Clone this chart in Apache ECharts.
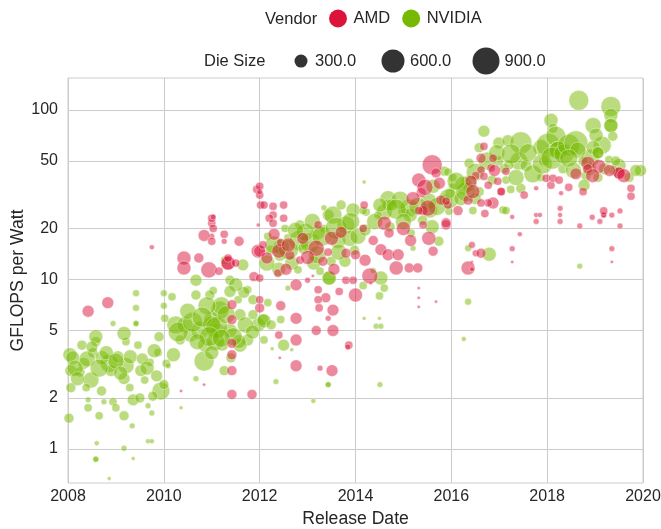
<!DOCTYPE html>
<html>
<head>
<meta charset="utf-8">
<script src="https://cdn.jsdelivr.net/npm/echarts@6/dist/echarts.min.js"></script>
<style>
  html, body { margin: 0; padding: 0; background: #fff; }
  #container { width: 661px; height: 529px; }
</style>
</head>
<body>
<div id="container"></div>
<script>
// [release year, GFLOPS per Watt, die size mm2]
const nvidiaPoints = [
  [2008.04, 3.6, 330], [2008.10, 3.45, 330], [2008.06, 2.9, 270], [2008.06, 2.3, 225],
  [2008.02, 1.52, 225], [2008.33, 3.2, 270], [2008.52, 3.7, 225], [2008.48, 2.55, 395],
  [2008.58, 4.3, 225], [2008.86, 3.2, 465], [2008.90, 2.9, 270], [2009.21, 3.1, 395],
  [2009.17, 2.6, 270], [2009.52, 2.9, 270], [2009.46, 4.1, 190], [2009.21, 4.3, 190],
  [2008.94, 1.9, 190], [2008.65, 1.57, 190], [2009.17, 1.57, 225], [2009.36, 1.95, 270],
  [2009.94, 2.2, 465], [2009.77, 2.05, 225], [2010.00, 2.4, 225], [2009.88, 3.7, 190],
  [2010.05, 3.2, 190], [2010.09, 3.1, 155], [2008.60, 1.08, 145], [2008.58, 0.87, 155],
  [2008.58, 0.87, 155], [2009.17, 1.01, 155], [2009.36, 0.88, 135], [2008.86, 0.67, 135],
  [2009.67, 1.11, 145], [2009.75, 1.11, 145], [2009.75, 1.63, 155], [2009.67, 1.8, 155],
  [2009.34, 1.37, 155], [2009.00, 1.75, 190], [2008.42, 1.75, 190], [2008.75, 1.9, 155],
  [2008.42, 1.95, 155], [2010.36, 1.75, 135], [2010.67, 2.6, 155], [2010.84, 3.3, 550],
  [2011.26, 2.9, 225], [2011.40, 3.45, 225], [2009.42, 8.3, 170], [2010.00, 8.3, 170],
  [2010.00, 7.0, 170], [2009.42, 6.8, 170], [2008.94, 5.5, 155], [2009.42, 5.5, 155],
  [2009.42, 5.5, 155], [2008.58, 4.6, 330], [2009.17, 4.8, 330], [2008.71, 3.45, 330],
  [2009.04, 3.5, 270], [2008.25, 2.85, 225], [2008.38, 2.3, 190], [2009.29, 2.3, 190],
  [2009.60, 2.55, 190], [2009.71, 3.25, 190], [2009.80, 3.8, 330], [2008.29, 4.1, 225],
  [2008.15, 3.0, 395], [2008.20, 2.6, 330], [2008.40, 3.4, 395], [2008.65, 3.0, 465],
  [2008.80, 3.7, 330], [2009.00, 3.3, 395], [2009.10, 2.8, 330], [2009.30, 3.5, 330],
  [2009.55, 3.4, 270], [2009.65, 3.0, 330], [2009.85, 2.7, 270], [2008.50, 4.0, 270],
  [2009.90, 4.6, 225], [2008.70, 2.2, 225], [2009.50, 2.0, 225],
  [2010.67, 9.9, 270], [2010.67, 8.1, 225], [2011.03, 8.6, 190], [2010.25, 5.4, 465],
  [2010.44, 5.4, 395], [2010.55, 4.7, 330], [2010.75, 5.0, 465], [2011.00, 5.8, 395],
  [2011.17, 6.6, 465], [2011.13, 5.0, 330], [2011.38, 5.0, 330], [2011.59, 6.2, 270],
  [2011.75, 4.4, 270], [2011.59, 4.1, 330], [2010.86, 4.1, 330], [2011.22, 4.1, 270],
  [2010.34, 4.4, 225], [2010.02, 5.9, 190], [2010.17, 7.9, 190], [2010.96, 8.1, 225],
  [2011.38, 9.9, 225], [2011.27, 13, 190], [2011.65, 12.2, 270], [2011.75, 8.7, 190],
  [2011.55, 7.6, 190], [2011.86, 7.6, 225], [2011.97, 5.4, 330], [2011.67, 8.4, 270],
  [2012.07, 5.8, 270], [2011.86, 6.2, 225], [2011.08, 4.3, 465], [2011.57, 4.3, 330],
  [2011.50, 9.3, 330], [2011.38, 8.5, 270], [2011.20, 7.0, 465], [2010.90, 7.0, 465],
  [2011.00, 5.4, 465], [2010.30, 4.9, 550], [2010.60, 5.6, 550], [2010.50, 6.5, 395],
  [2010.80, 6.0, 550], [2011.10, 5.2, 640], [2011.30, 6.2, 465], [2011.45, 4.6, 465],
  [2011.70, 5.4, 395], [2011.85, 4.9, 330], [2010.95, 4.6, 550], [2011.20, 4.5, 465],
  [2010.70, 4.3, 395], [2011.00, 3.7, 330], [2010.20, 3.6, 330],
  [2012.17, 18, 190], [2012.59, 17.6, 190], [2012.82, 17, 550], [2012.92, 15.3, 270],
  [2013.34, 20, 190], [2013.43, 24, 270], [2013.53, 24, 465], [2013.80, 21, 465],
  [2013.63, 17, 395], [2013.49, 12.8, 225], [2013.13, 12.5, 330], [2013.45, 10.2, 330],
  [2013.45, 10.2, 330], [2012.59, 8.9, 155], [2012.17, 7.3, 190], [2012.09, 5.7, 330],
  [2012.24, 5.4, 225], [2012.44, 5.8, 190], [2012.50, 4.1, 270], [2012.09, 4.4, 190],
  [2012.26, 3.9, 135], [2012.67, 3.85, 135], [2012.34, 2.5, 155], [2013.43, 2.4, 155],
  [2013.43, 2.4, 155], [2013.12, 1.92, 145], [2013.34, 26.5, 155], [2012.22, 14.9, 225],
  [2012.42, 13.9, 270], [2012.67, 12.5, 330], [2013.05, 16.5, 550], [2013.22, 19, 330],
  [2013.88, 17.5, 395], [2013.78, 12.8, 270], [2013.98, 14.9, 225], [2012.84, 21, 225],
  [2012.53, 20, 190], [2013.70, 27.5, 225], [2013.95, 25.7, 330], [2012.80, 11.4, 190],
  [2013.26, 11.2, 190], [2012.45, 15.5, 395], [2012.30, 16, 465], [2012.60, 15, 550],
  [2012.95, 19, 465], [2013.10, 22, 395], [2013.30, 18, 550], [2013.60, 20, 640],
  [2013.90, 22, 465], [2013.65, 14.5, 395], [2013.20, 14.0, 465], [2012.75, 19.5, 395],
  [2014.05, 18, 395], [2012.40, 11.5, 330], [2012.15, 12.5, 395],
  [2014.22, 25, 190], [2014.60, 25, 395], [2015.16, 18.8, 190], [2015.20, 15.3, 155],
  [2014.99, 25, 225], [2015.74, 16.8, 225], [2015.95, 25.3, 190], [2014.16, 9.2, 190],
  [2014.37, 11.3, 155], [2014.53, 10.2, 330], [2014.60, 8.9, 190], [2014.50, 8.0, 190],
  [2014.18, 5.9, 135], [2014.50, 5.9, 135], [2014.43, 5.3, 155], [2014.53, 5.3, 155],
  [2014.51, 2.4, 155], [2014.18, 37.6, 135], [2014.16, 25.5, 190], [2014.47, 24, 190],
  [2014.68, 30, 395], [2014.68, 27.5, 270], [2015.12, 26.4, 465], [2015.85, 43.6, 225],
  [2015.62, 35.5, 330], [2015.53, 29, 395], [2016.03, 35, 190], [2014.93, 29.4, 465],
  [2014.75, 27.5, 270], [2015.14, 24, 330], [2014.51, 27.5, 330], [2014.20, 19.6, 270],
  [2014.72, 20.5, 225], [2015.55, 25.7, 395], [2015.86, 29.4, 270], [2015.97, 32.3, 225],
  [2015.93, 43, 190], [2016.03, 40, 190], [2015.40, 22.4, 225], [2016.26, 4.45, 145],
  [2014.85, 26, 550], [2015.30, 27, 465], [2015.70, 27, 465], [2015.95, 30, 550],
  [2015.00, 22, 395], [2014.40, 22, 395], [2015.60, 20.5, 330],
  [2016.68, 75, 270], [2016.58, 60, 225], [2016.37, 48.5, 225], [2016.99, 50, 225],
  [2017.10, 45, 225], [2016.99, 64, 270], [2017.18, 66, 270], [2017.45, 64, 640],
  [2017.41, 50, 465], [2017.56, 47, 270], [2017.20, 47.5, 225], [2016.37, 37, 395],
  [2016.26, 36, 465], [2016.58, 33, 225], [2017.14, 38.6, 190], [2017.24, 34, 190],
  [2017.45, 34.5, 225], [2017.08, 25.7, 190], [2016.45, 25.5, 190], [2017.14, 25.5, 190],
  [2016.35, 15.3, 170], [2016.79, 14.1, 330], [2016.35, 7.4, 170], [2017.87, 60, 395],
  [2017.87, 40, 190], [2018.02, 62, 740], [2018.08, 87, 330], [2018.12, 78, 225],
  [2018.18, 70, 550], [2018.23, 58, 465], [2018.23, 58, 465], [2018.33, 45, 225],
  [2017.93, 50, 225], [2016.85, 38.6, 225], [2016.50, 30, 270], [2016.20, 30, 330],
  [2016.30, 33, 550], [2016.50, 43, 465], [2016.75, 50, 465], [2016.95, 56, 395],
  [2017.25, 55, 550], [2017.60, 56, 465], [2017.70, 42, 465], [2017.35, 40, 395],
  [2016.10, 38, 465], [2017.90, 48, 550], [2018.10, 52, 640], [2018.35, 55, 550],
  [2018.45, 62, 640], [2018.90, 52, 465], [2019.15, 62, 465], [2018.55, 44, 395],
  [2019.50, 47, 330], [2019.95, 44, 270],
  [2018.66, 114, 550], [2019.33, 105, 550], [2019.33, 93, 330], [2019.33, 81, 330],
  [2019.33, 81, 330], [2018.96, 81, 395], [2019.02, 71, 330], [2019.37, 70, 225],
  [2018.60, 64, 740], [2018.64, 58, 395], [2018.96, 60, 330], [2019.06, 56, 270],
  [2019.06, 56, 270], [2018.75, 50, 225], [2018.81, 41, 225], [2018.77, 36, 270],
  [2019.06, 40, 225], [2019.39, 44, 225], [2019.71, 40, 225], [2019.85, 44, 270],
  [2019.29, 51, 190], [2019.43, 50, 225], [2018.68, 12, 155], [2018.45, 52, 465],
  [2018.88, 45, 330], [2019.20, 45, 270]
];

const amdPoints = [
  [2008.42, 6.5, 270], [2008.83, 7.3, 270], [2009.75, 15.5, 145], [2011.00, 21.5, 190],
  [2011.00, 23, 190], [2011.03, 20, 190], [2011.00, 18, 155], [2010.84, 18.2, 270],
  [2011.00, 16.8, 190], [2011.26, 18.5, 190], [2011.26, 16.8, 155], [2011.57, 16.8, 225],
  [2011.03, 23.4, 155], [2010.42, 13.4, 330], [2010.42, 11.7, 330], [2010.73, 13.4, 225],
  [2010.94, 11.4, 395], [2011.34, 12.5, 330], [2011.34, 12.5, 330], [2011.34, 13.4, 190],
  [2011.50, 12.5, 190], [2011.97, 14.7, 330], [2011.88, 10.4, 225], [2011.15, 11.2, 190],
  [2011.42, 2.1, 225], [2011.84, 2.1, 225], [2011.42, 3.6, 225], [2011.42, 4.2, 225],
  [2011.42, 2.9, 225], [2011.42, 5.8, 225], [2011.42, 7.1, 225], [2010.36, 2.2, 130],
  [2010.84, 2.4, 130], [2011.94, 34, 190], [2012.00, 35.5, 190], [2012.00, 31.5, 190],
  [2012.02, 27.5, 190], [2012.09, 27.5, 190], [2012.00, 33, 155], [2012.28, 27, 190],
  [2012.28, 24, 190], [2012.50, 27.5, 190], [2011.97, 21, 135], [2012.20, 23, 190],
  [2012.28, 21.5, 190], [2012.50, 23, 190], [2012.00, 14.7, 270], [2012.07, 16, 190],
  [2012.40, 14.7, 330], [2012.44, 16.5, 190], [2013.22, 21, 190], [2013.18, 15.3, 395],
  [2013.32, 12.8, 225], [2013.43, 14.5, 190], [2013.80, 14.3, 225], [2014.00, 14, 225],
  [2014.16, 20, 190], [2014.60, 21.5, 330], [2014.70, 18.8, 225], [2014.37, 17, 225],
  [2014.53, 15, 270], [2014.68, 14, 270], [2014.89, 14, 270], [2014.85, 11.7, 330],
  [2015.12, 11.7, 225], [2015.30, 11.7, 225], [2015.41, 25.5, 225], [2015.41, 21, 190],
  [2015.53, 17.5, 330], [2015.62, 14.7, 225], [2015.89, 21, 225], [2013.80, 9.9, 190],
  [2013.95, 9.9, 190], [2014.00, 8.1, 330], [2014.32, 9.5, 130], [2013.11, 10.5, 130],
  [2013.00, 9.9, 155], [2012.76, 9.3, 270], [2012.38, 10.9, 190], [2013.22, 8.7, 190],
  [2013.38, 7.8, 225], [2013.22, 7.6, 190], [2013.66, 8.5, 190], [2013.24, 6.8, 190],
  [2013.53, 6.6, 270], [2013.43, 5.9, 155], [2012.76, 5.9, 270], [2012.44, 7.0, 225],
  [2012.00, 6.8, 225], [2013.18, 5.0, 225], [2013.53, 5.0, 270], [2012.76, 4.4, 270],
  [2012.40, 4.7, 190], [2013.86, 4.1, 190], [2012.42, 3.45, 130], [2012.76, 3.1, 270],
  [2013.26, 3.0, 155], [2013.51, 2.9, 270], [2013.84, 4.0, 155], [2012.00, 10.2, 190],
  [2012.00, 7.6, 190], [2015.32, 8.9, 130], [2015.32, 7.8, 130], [2015.32, 6.9, 130],
  [2015.68, 7.4, 130], [2015.32, 38.6, 330], [2015.60, 47.5, 550], [2015.68, 42.5, 225],
  [2015.37, 32.5, 225], [2015.78, 29.4, 225], [2015.93, 27.5, 190], [2015.51, 26.4, 395],
  [2015.32, 25.5, 190], [2015.89, 29, 190], [2016.14, 25.5, 225], [2016.35, 29.4, 225],
  [2015.89, 21.6, 225], [2016.43, 16, 170], [2016.51, 14.3, 170], [2016.62, 14.3, 225],
  [2016.43, 12.7, 130], [2016.35, 11.7, 330], [2016.43, 11.5, 145], [2017.27, 23.4, 145],
  [2017.43, 18.5, 145], [2017.27, 15.2, 155], [2017.27, 12.7, 130], [2017.77, 24, 145],
  [2017.85, 24, 145], [2017.77, 22, 155], [2018.27, 26.3, 155], [2018.27, 24, 145],
  [2018.27, 22, 155], [2018.68, 20.7, 155], [2018.94, 23.3, 155], [2019.10, 22, 155],
  [2019.18, 24, 155], [2019.18, 24, 155], [2019.18, 25.4, 190], [2019.35, 24, 155],
  [2019.52, 25.4, 155], [2019.52, 20.7, 155], [2019.35, 15.2, 155], [2019.35, 12.7, 130],
  [2019.75, 34.5, 190], [2019.75, 31, 190], [2019.50, 42.5, 270], [2019.50, 42.5, 270],
  [2018.85, 48.5, 330], [2018.85, 45, 225], [2019.08, 46.5, 330], [2017.98, 39.6, 190],
  [2018.08, 36, 190], [2018.12, 39.6, 190], [2018.25, 38.6, 190], [2018.29, 32.3, 145],
  [2017.77, 34.5, 145], [2016.87, 28.3, 270], [2016.77, 28.3, 190], [2016.62, 28.3, 190],
  [2016.62, 52, 225], [2016.68, 61, 190], [2016.87, 52, 190], [2016.83, 45.5, 190],
  [2016.62, 44.3, 190], [2016.51, 41, 190], [2016.68, 40.6, 190], [2016.41, 38, 270],
  [2016.77, 36, 190], [2016.97, 38, 190], [2017.04, 33, 190], [2017.04, 33, 190],
  [2017.52, 31.5, 190], [2017.14, 43.5, 190], [2014.18, 27.5, 190], [2012.15, 13.4, 270],
  [2012.63, 13.9, 225], [2012.84, 13, 190],
  [2012.30, 18.5, 270], [2012.60, 16, 330], [2012.90, 17.5, 270], [2013.50, 17.5, 330],
  [2013.70, 19, 270], [2013.00, 13.5, 330], [2012.55, 11.5, 270], [2013.55, 11.5, 270],
  [2014.20, 13, 270], [2014.30, 10.5, 395], [2015.00, 20, 330], [2015.20, 30, 330],
  [2015.45, 35, 395], [2015.75, 37, 270], [2015.15, 17, 270], [2016.45, 33, 330],
  [2016.90, 44, 270], [2016.70, 24.5, 190], [2018.60, 42, 270], [2018.95, 41, 330],
  [2019.30, 44, 270], [2018.45, 35, 190], [2018.75, 33, 190], [2019.60, 41, 330]
];

const yTicks = [1, 2, 5, 10, 20, 50, 100];
const sizeLegend = ['300.0', '600.0', '900.0'];

const font = 'Liberation Sans, Arial, sans-serif';
const ink = '#262626';
const amdColor = '#DC143C';
const nvColor = '#76B900';

const toLog = pts => pts.map(p => [p[0], Math.log10(p[1]), p[2]]);
const dieToSize = p => Math.sqrt(Math.max(0.93 * p[2] - 110, 9));

const dom = document.getElementById('container');
const myChart = echarts.init(dom);

const pointStyle = color => ({
  color: color,
  opacity: 0.5,
  borderColor: '#fff',
  borderWidth: 0.8
});

const legendText = { fontSize: 16.5, fontFamily: font, color: ink };

const option = {
  animation: false,
  backgroundColor: '#fff',
  textStyle: { fontFamily: font, color: ink },
  grid: {
    left: 68, right: 18, top: 78, bottom: 46,
    outerBoundsMode: 'none',
    show: true, borderColor: '#cccccc', borderWidth: 1
  },
  graphic: [
    { type: 'text', left: 265, top: 11, style: { text: 'Vendor', font: '16.5px ' + font, fill: ink } },
    { type: 'text', left: 204, top: 53, style: { text: 'Die Size', font: '16.5px ' + font, fill: ink } }
  ],
  legend: [
    {
      left: 329, top: 9.5, padding: 0, itemGap: 12, itemWidth: 21, itemHeight: 18,
      icon: 'circle', selectedMode: false, textStyle: legendText,
      data: [
        { name: 'AMD', itemStyle: { color: amdColor, opacity: 1, borderWidth: 0 } },
        { name: 'NVIDIA', itemStyle: { color: nvColor, opacity: 1, borderWidth: 0 } }
      ]
    },
    {
      left: 294.5, top: 52.6, padding: 0, itemWidth: 18, itemHeight: 13, icon: 'circle', selectedMode: false,
      textStyle: legendText,
      data: [{ name: sizeLegend[0], itemStyle: { color: '#333', opacity: 1, borderWidth: 0 } }]
    },
    {
      left: 381.5, top: 49.5, padding: 0, itemWidth: 24, itemHeight: 23, icon: 'circle', selectedMode: false,
      textStyle: legendText,
      data: [{ name: sizeLegend[1], itemStyle: { color: '#333', opacity: 1, borderWidth: 0 } }]
    },
    {
      left: 472.5, top: 47.5, padding: 0, itemWidth: 27, itemHeight: 27, icon: 'circle', selectedMode: false,
      textStyle: legendText,
      data: [{ name: sizeLegend[2], itemStyle: { color: '#333', opacity: 1, borderWidth: 0 } }]
    }
  ],
  xAxis: {
    type: 'value',
    min: 2008,
    max: 2020,
    interval: 2,
    name: 'Release Date',
    nameLocation: 'middle',
    nameGap: 25,
    nameTextStyle: { fontSize: 17.6, color: ink, fontFamily: font },
    axisLine: { show: false },
    axisTick: { show: false },
    axisLabel: { fontSize: 16, color: ink, margin: 6, formatter: v => String(v) },
    splitLine: { show: true, lineStyle: { color: '#cccccc', width: 1 } }
  },
  yAxis: {
    type: 'value',
    min: -0.2006,
    max: 2.189,
    name: 'GFLOPS per Watt',
    nameLocation: 'middle',
    nameGap: 41,
    nameMoveOverlap: false,
    nameTextStyle: { fontSize: 17.6, color: ink, fontFamily: font },
    axisLine: { show: false },
    axisTick: { show: false, customValues: yTicks.map(v => Math.log10(v)) },
    axisLabel: {
      fontSize: 16, color: ink, margin: 10,
      customValues: yTicks.map(v => Math.log10(v)),
      formatter: v => String(Math.round(Math.pow(10, v)))
    },
    splitLine: { show: true, lineStyle: { color: '#cccccc', width: 1 } }
  },
  series: [
    {
      name: 'NVIDIA',
      type: 'scatter',
      data: toLog(nvidiaPoints),
      symbolSize: dieToSize,
      itemStyle: pointStyle(nvColor)
    },
    {
      name: 'AMD',
      type: 'scatter',
      data: toLog(amdPoints),
      symbolSize: dieToSize,
      itemStyle: pointStyle(amdColor)
    },
    { name: sizeLegend[0], type: 'scatter', data: [], itemStyle: { color: '#333' } },
    { name: sizeLegend[1], type: 'scatter', data: [], itemStyle: { color: '#333' } },
    { name: sizeLegend[2], type: 'scatter', data: [], itemStyle: { color: '#333' } }
  ]
};

myChart.setOption(option);
</script>
</body>
</html>
